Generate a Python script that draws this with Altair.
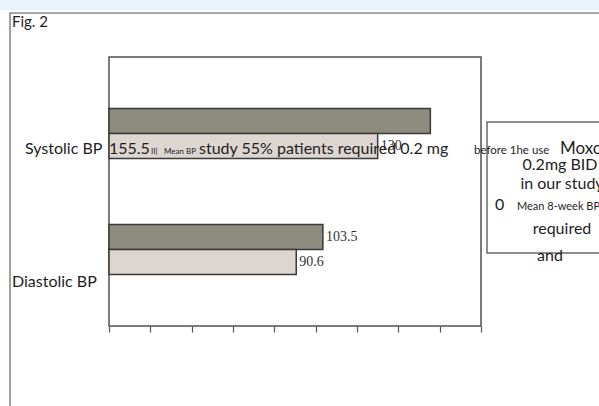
import altair as alt
import pandas as pd

# ---- data ----
groups = ["Systolic BP", "Systolic BP", "Diastolic BP", "Diastolic BP"]
series = ["before", "after", "before", "after"]
values = [155.5, 130.0, 103.5, 90.6]
value_labels = ["", "130", "103.5", "90.6"]
group_order = ["Systolic BP", "Diastolic BP"]
series_order = ["before", "after"]
x_ticks = [0, 20, 40, 60, 80, 100, 120, 140, 160, 180]

fig_title = "Fig. 2"
line_large_1 = ["Systolic BP", "155.5"]
line_small_1 = ["II|", "Mean BP"]
line_large_2 = "study 55% patients required 0.2 mg"
line_small_2 = "before 1he use"
line_large_3 = "Moxonidine"
box_lines = ["0.2mg BID", "in our study", "required"]
box_zero = "0"
box_small = "Mean  8-week  BP"
box_and = "and"
diastolic_label = "Diastolic BP"

df = pd.DataFrame({"group": groups, "series": series, "value": values, "label": value_labels})

OX, OY = 109, 57  # plot origin in page coords
W, H = 372, 269
SANS = "Lato"
TXT = "#1e1e1e"
BIG = 16


def one():
    return pd.DataFrame({"t": [""]})


def txt(s, X, Y, size, align="left", font=SANS, color=TXT):
    return alt.Chart(pd.DataFrame({"t": [s]})).mark_text(
        align=align, baseline="alphabetic", fontSize=size, font=font, color=color
    ).encode(x=alt.value(X - OX), y=alt.value(Y - OY), text="t:N")


def rect(X1, X2, Y1, Y2, fill, stroke=None, sw=0, fill_opacity=1):
    kw = dict(fill=fill, fillOpacity=fill_opacity)
    if stroke:
        kw.update(stroke=stroke, strokeWidth=sw)
    return alt.Chart(one()).mark_rect(**kw).encode(
        x=alt.value(X1 - OX), x2=alt.value(X2 - OX), y=alt.value(Y1 - OY), y2=alt.value(Y2 - OY)
    )


top_band = rect(0, 700, 0, 10, "#eaf3fa")
outer_frame = rect(10, 760, 13, 560, "white", "#8a8a8a", 1.6, fill_opacity=0)
plot_frame = rect(OX, OX + W, OY, OY + H, "white", "#555555", 1.5, fill_opacity=0)
right_box = rect(487, 760, 122, 253, "white", "#6a6a6a", 1.5)

ysc = alt.Scale(domain=group_order, paddingInner=0.57, paddingOuter=0.444)
yo = alt.Scale(domain=series_order, paddingInner=0, paddingOuter=0)

bars = alt.Chart(df).mark_bar(stroke="#3a3a3a", strokeWidth=1.5).encode(
    x=alt.X("value:Q", scale=alt.Scale(domain=[0, 180]),
            axis=alt.Axis(values=x_ticks, labels=False, ticks=True, tickSize=6,
                          tickColor="#555", tickWidth=1.2, domain=False, grid=False,
                          title=None, zindex=1)),
    y=alt.Y("group:N", scale=ysc, axis=None),
    yOffset=alt.YOffset("series:N", scale=yo),
    fill=alt.Fill("series:N", scale=alt.Scale(domain=series_order, range=["#8e8c7e", "#ddd5cf"]), legend=None),
)

labels = alt.Chart(df).mark_text(
    align="left", baseline="middle", dx=3, fontSize=14, font="Liberation Serif", color="#333"
).encode(
    x="value:Q",
    y=alt.Y("group:N", scale=ysc, axis=None),
    yOffset=alt.YOffset("series:N", scale=yo),
    text="label:N",
)

texts = [
    txt(fig_title, 12, 27, 15),
    txt(line_large_1[0], 25, 154, BIG),
    txt(line_large_1[1], 109, 154, BIG),
    txt(line_small_1[0], 151, 154, 8),
    txt(line_small_1[1], 164, 154, 8),
    txt(line_large_2, 199, 154, BIG),
    txt(line_small_2, 474, 154, 11.5),
    txt(line_large_3, 560, 154, 17),
    txt(box_lines[0], 560, 170, BIG, align="center"),
    txt(box_lines[1], 562, 189, BIG, align="center"),
    txt(box_zero, 495, 210, BIG),
    txt(box_small, 517, 210, 11),
    txt(box_lines[2], 562, 234, BIG, align="center"),
    txt(box_and, 537, 261, BIG),
    txt(diastolic_label, 12, 287, BIG),
]

chart = alt.layer(top_band, outer_frame, right_box, plot_frame, bars, labels, *texts).properties(
    width=W, height=H,
    autosize=alt.AutoSizeParams(type="none"),
    padding={"left": OX, "top": OY, "right": 599 - OX - W, "bottom": 406 - OY - H},
).configure_view(stroke=None).configure(background="white")

chart.save("out.html", embed_options={"renderer": "svg", "actions": False})
